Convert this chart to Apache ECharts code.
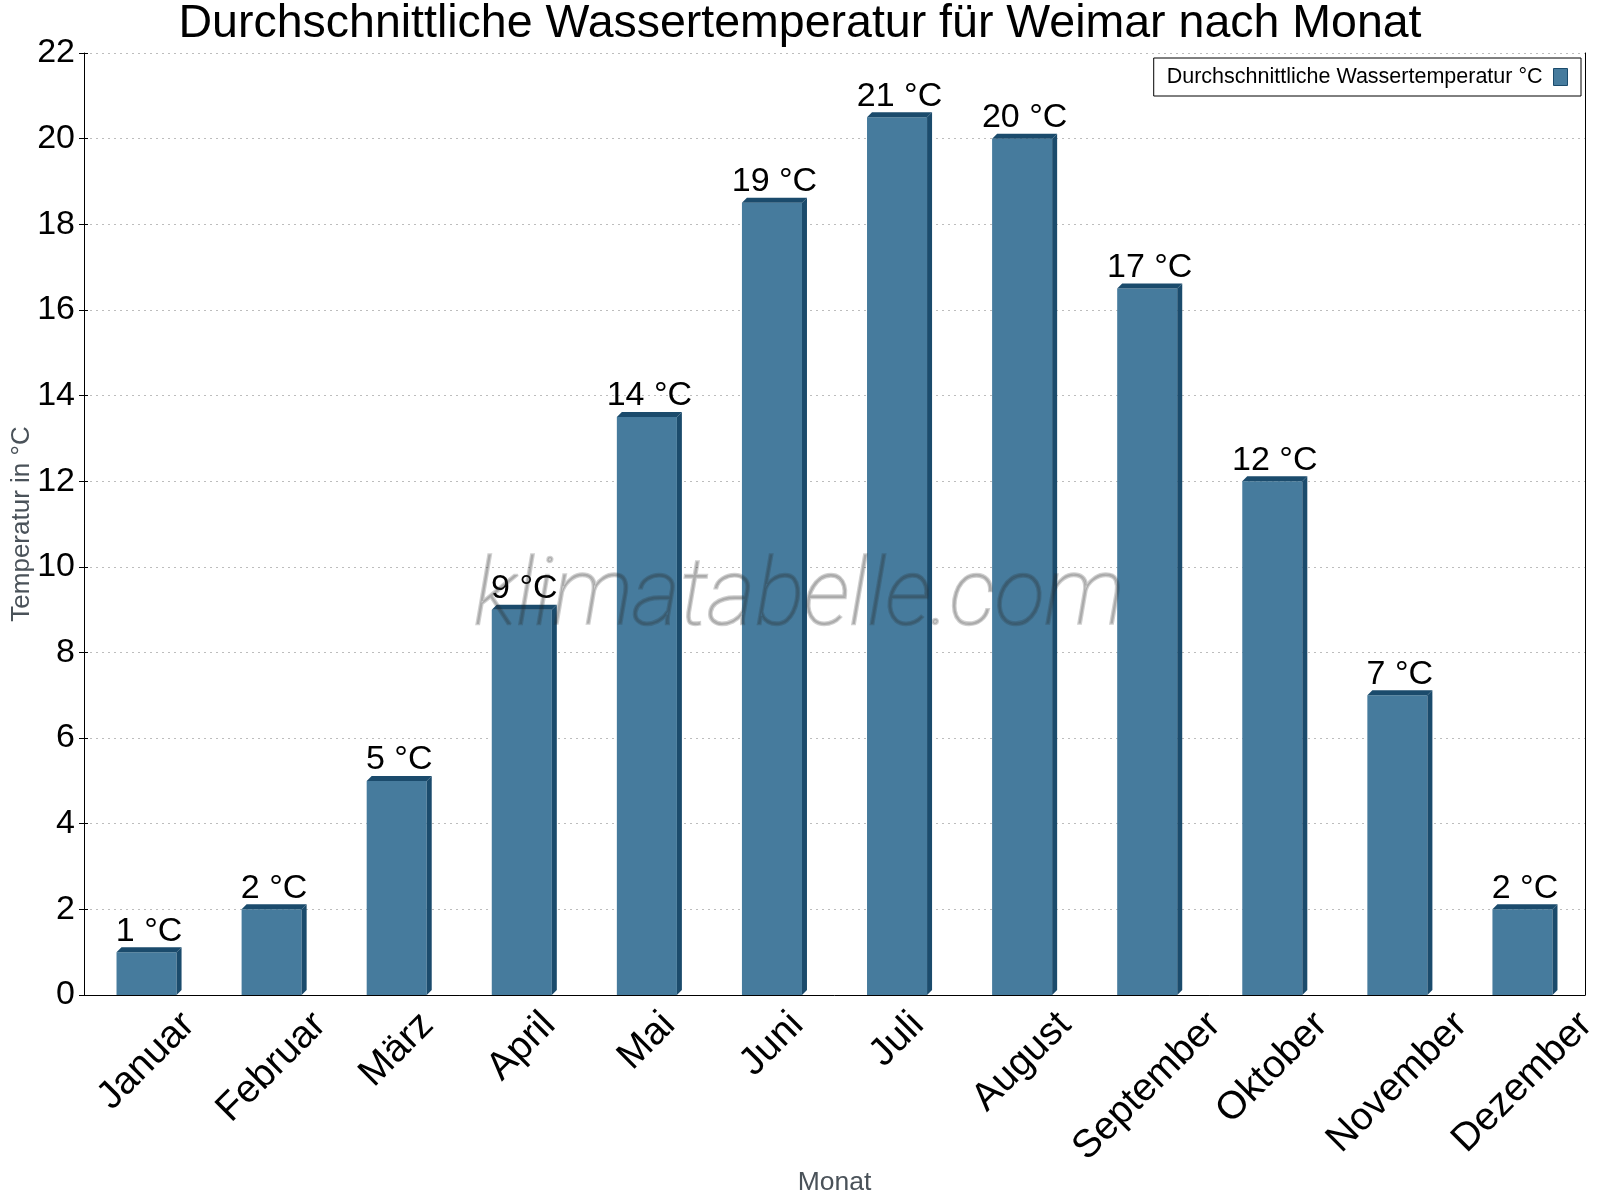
<!DOCTYPE html>
<html>
<head>
<meta charset="utf-8">
<title>Wassertemperatur Weimar</title>
<script src="https://cdn.jsdelivr.net/npm/echarts@6/dist/echarts.min.js"></script>
<style>
html, body { margin: 0; padding: 0; background: #fff; }
#statistics { width: 1600px; height: 1200px; }
</style>
</head>
<body>
<div id="statistics"></div>
<script type="text/javascript">
// Daten
var months = ['Januar', 'Februar', 'März', 'April', 'Mai', 'Juni', 'Juli', 'August', 'September', 'Oktober', 'November', 'Dezember'];
var temps = [1, 2, 5, 9, 13.5, 18.5, 20.5, 20, 16.5, 12, 7, 2];
var tempLabels = ['1 °C', '2 °C', '5 °C', '9 °C', '14 °C', '19 °C', '21 °C', '20 °C', '17 °C', '12 °C', '7 °C', '2 °C'];
var yMin = 0;
var yMax = 22;
var yStep = 2;

var seriesName = 'Durchschnittliche Wassertemperatur °C';
var FONT = '"Liberation Sans", Arial, sans-serif';
var front = '#467b9d';
var dark = '#1b4b6c';
var monthFont = 39;

// Breite der Monatsnamen messen (für die gedrehten Beschriftungen)
var ctx = document.createElement('canvas').getContext('2d');
ctx.font = monthFont + 'px ' + FONT;
function textWidth(s) { return ctx.measureText(s).width; }

function renderBar(params, api) {
	var i = api.value(0);
	var base = api.coord([i, 0]);
	var top = api.coord([i, api.value(1)]);
	var w = api.size([1, 0])[0] * 0.48;
	var d = 5;
	var x0 = base[0] - w / 2, x1 = base[0] + w / 2, yb = base[1], yt = top[1];
	return {
		type: 'group',
		children: [
			{type: 'rect', shape: {x: x0, y: yt, width: w, height: yb - yt}, style: {fill: front}},
			{type: 'polygon', shape: {points: [[x1, yt], [x1 + d, yt - d], [x1 + d, yb - d], [x1, yb]]}, style: {fill: dark}},
			{type: 'polygon', shape: {points: [[x0, yt], [x0 + d, yt - d], [x1 + d, yt - d], [x1, yt]]}, style: {fill: dark}},
			{type: 'text', x: base[0] + d / 2, y: yt - 4,
				style: {text: tempLabels[i], font: '34px ' + FONT, fill: '#000', align: 'center', verticalAlign: 'bottom'}}
		]
	};
}

function renderMonth(params, api) {
	var i = api.value(0);
	var p = api.coord([i, 0]);
	var half = (textWidth(months[i]) + 0.8 * monthFont) / (2 * Math.SQRT2);
	return {
		type: 'text', x: p[0], y: p[1] + 13 + half, rotation: Math.PI / 4,
		style: {text: months[i], font: monthFont + 'px ' + FONT, fill: '#000', align: 'center', verticalAlign: 'middle'}
	};
}

var myChart = echarts.init(document.getElementById('statistics'));
var option = {
	animation: false,
	backgroundColor: '#fff',
	title: {
		text: 'Durchschnittliche Wassertemperatur für Weimar nach Monat',
		left: 'center',
		top: -4,
		textStyle: {fontFamily: FONT, fontSize: 46.5, fontWeight: 'normal', color: '#000'}
	},
	legend: {
		data: [{name: seriesName, icon: 'rect', itemStyle: {color: front, borderColor: dark, borderWidth: 1}}],
		right: 19,
		top: 58,
		align: 'right',
		itemWidth: 14,
		itemHeight: 17,
		padding: [8, 13, 8, 13],
		borderColor: '#000',
		borderWidth: 1,
		borderRadius: 0,
		backgroundColor: '#fff',
		formatter: '{name} ',
		textStyle: {fontFamily: FONT, fontSize: 21.5, color: '#000'}
	},
	grid: {left: 84, right: 15, top: 53, bottom: 205, outerBoundsMode: 'none', containLabel: false},
	xAxis: [
		{
			type: 'category',
			data: months,
			name: 'Monat',
			nameLocation: 'middle',
			nameGap: 174,
			nameTextStyle: {fontFamily: FONT, fontSize: 26.5, color: '#4a5259'},
			axisLine: {lineStyle: {color: '#000', width: 1}},
			axisTick: {length: 5, lineStyle: {color: '#000'}},
			axisLabel: {show: false}
		},
		{
			type: 'category',
			data: months,
			position: 'bottom',
			axisLine: {show: false},
			axisTick: {inside: true, length: 3, lineStyle: {color: '#000'}},
			axisLabel: {show: false}
		}
	],
	yAxis: [
		{
			type: 'value',
			min: yMin,
			max: yMax,
			interval: yStep,
			name: 'Temperatur in °C',
			nameLocation: 'middle',
			nameGap: 49,
			nameMoveOverlap: false,
			nameTextStyle: {fontFamily: FONT, fontSize: 26, color: '#4a5259'},
			axisLine: {show: true, lineStyle: {color: '#000', width: 1}},
			axisTick: {show: true, length: 5, lineStyle: {color: '#000'}},
			axisLabel: {fontFamily: FONT, fontSize: 34, color: '#000', margin: 9},
			splitLine: {lineStyle: {color: '#bdbdbd', type: [2, 4], width: 1}}
		},
		{
			type: 'value',
			min: yMin,
			max: yMax,
			interval: yStep,
			position: 'left',
			axisLine: {show: false},
			axisTick: {show: true, inside: true, length: 4, lineStyle: {color: '#000'}},
			axisLabel: {show: false},
			splitLine: {show: false}
		},
		{
			type: 'value',
			min: yMin,
			max: yMax,
			interval: yStep,
			position: 'right',
			axisLine: {show: true, lineStyle: {color: '#000', width: 1}},
			axisTick: {show: false},
			axisLabel: {show: false},
			splitLine: {show: false}
		}
	],
	graphic: [
		{
			type: 'text',
			x: 799,
			y: 597,
			z: 100,
			silent: true,
			style: {
				text: 'klimatabelle.com',
				font: 'italic 100 92px "Roboto Thin", Roboto',
				fill: 'rgba(40,40,40,0.22)',
				stroke: 'rgba(40,40,40,0.22)',
				lineWidth: 2.4,
				align: 'center',
				verticalAlign: 'middle'
			}
		}
	],
	series: [
		{
			name: seriesName,
			type: 'custom',
			renderItem: renderBar,
			itemStyle: {color: front},
			encode: {x: 0, y: 1},
			data: temps.map(function (v, i) { return [i, v]; })
		},
		{
			name: 'Monate',
			type: 'custom',
			silent: true,
			renderItem: renderMonth,
			encode: {x: 0, y: 1},
			data: months.map(function (m, i) { return [i, 0]; })
		}
	]
};

myChart.setOption(option);
</script>
</body>
</html>
